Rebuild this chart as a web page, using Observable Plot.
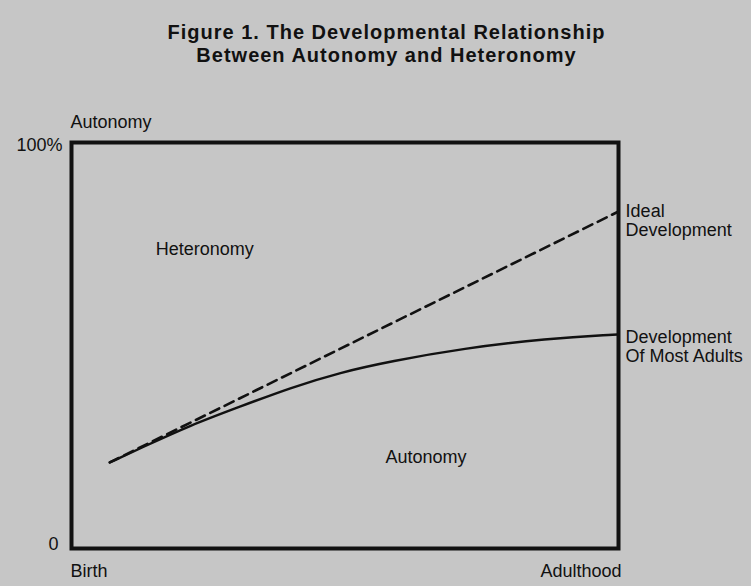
<!DOCTYPE html>
<html>
<head>
<meta charset="utf-8">
<script src="https://cdn.jsdelivr.net/npm/d3@7"></script>
<script src="https://cdn.jsdelivr.net/npm/@observablehq/plot@0.6"></script>
<style>
  html, body { margin: 0; padding: 0; background: #c6c6c6; }
  #title {
    width: 751px; height: 80px; box-sizing: border-box; padding-top: 21px;
    text-align: center; font-family: "Liberation Sans", Arial, sans-serif;
    font-weight: bold; font-size: 20px; line-height: 23px; letter-spacing: 1px; color: #111;
    padding-left: 22px;
  }
  #chart svg { display: block; }
</style>
</head>
<body>
<div id="title">Figure 1. The Developmental Relationship<br>Between Autonomy and Heteronomy</div>
<div id="chart"></div>
<script>
// ---- data ----
const titleLines = ["Figure 1. The Developmental Relationship", "Between Autonomy and Heteronomy"];
const yAxisTitle = "Autonomy";
const yTickValues = [0, 100];
const yTickLabels = ["0", "100%"];
const xTickValues = [0, 100];
const xTickLabels = ["Birth", "Adulthood"];

// Ideal development (dashed, straight)
const idealX = [7, 100];
const idealY = [21.2, 83];

// Development of most adults (solid, flattening curve)
const adultX = [7, 12.6, 21.8, 30.9, 40, 49.2, 58.3, 71.6, 87, 99, 100];
const adultY = [21.2, 24.7, 30.4, 35.0, 39.6, 43.4, 46.1, 49.3, 51.7, 52.7, 52.7];

// Region and series labels
const regionNames = ["Heteronomy", "Autonomy"];
const regionX = [15.4, 57.4];
const regionY = [73.6, 22.4];
const seriesNames = ["Ideal\nDevelopment", "Development\nOf Most Adults"];
const seriesX = [101.3, 101.3];
const seriesY = [80.8, 49.8];

// ---- build tables ----
const ideal = idealX.map((x, i) => ({x, y: idealY[i]}));
const adults = adultX.map((x, i) => ({x, y: adultY[i]}));
const regions = regionNames.map((t, i) => ({t, x: regionX[i], y: regionY[i]}));
const series = seriesNames.map((t, i) => ({t, x: seriesX[i], y: seriesY[i]}));
const yLab = Object.fromEntries(yTickValues.map((v, i) => [v, yTickLabels[i]]));
const xLab = Object.fromEntries(xTickValues.map((v, i) => [v, xTickLabels[i]]));

const FS = 18;
const plot = Plot.plot({
  width: 751,
  height: 506,
  marginTop: 62,
  marginBottom: 38,
  marginLeft: 71,
  marginRight: 133,
  style: {background: "none", fontFamily: "Liberation Sans, Arial, sans-serif", fontSize: "18px", color: "#111"},
  x: {domain: [0, 100]},
  y: {domain: [0, 100]},
  marks: [
    Plot.axisY([yTickValues[1]], {tickSize: 0, tickPadding: 9, fontSize: FS, dy: 3, tickFormat: d => yLab[d], label: null}),
    Plot.axisY([yTickValues[0]], {tickSize: 0, tickPadding: 13, fontSize: FS, dy: -4, tickFormat: d => yLab[d], label: null}),
    Plot.axisX([xTickValues[0]], {tickSize: 0, tickPadding: 16, fontSize: FS, textAnchor: "start", dx: -1, tickFormat: d => xLab[d], label: null}),
    Plot.axisX([xTickValues[1]], {tickSize: 0, tickPadding: 16, fontSize: FS, textAnchor: "end", dx: 3, tickFormat: d => xLab[d], label: null}),
    Plot.text([yAxisTitle], {frameAnchor: "top-left", text: d => d, textAnchor: "start", fontSize: FS, dx: -1, dy: -27, fill: "#111"}),
    Plot.lineY(ideal, {x: "x", y: "y", stroke: "#111", strokeWidth: 2.6, strokeDasharray: "10,6"}),
    Plot.lineY(adults, {x: "x", y: "y", stroke: "#111", strokeWidth: 2.4, curve: "basis"}),
    Plot.frame({stroke: "#111", strokeWidth: 4}),
    Plot.text(regions, {x: "x", y: "y", text: "t", textAnchor: "start", fontSize: FS, fill: "#111"}),
    Plot.text(series, {x: "x", y: "y", text: "t", textAnchor: "start", fontSize: FS, lineHeight: 1.06, fill: "#111"})
  ]
});
document.getElementById("chart").appendChild(plot);
</script>
</body>
</html>
